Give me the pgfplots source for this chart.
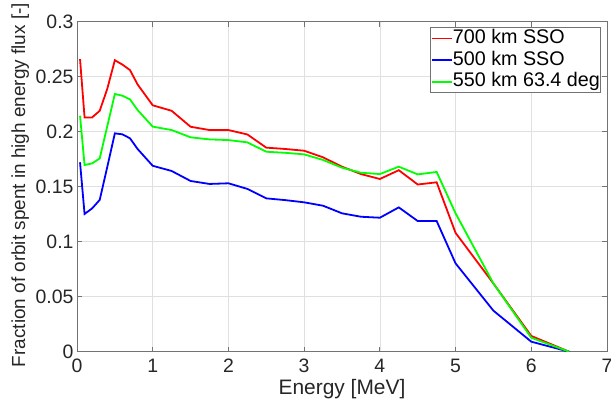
\documentclass[border=0pt]{standalone}
\usepackage{fontspec}
\setmainfont{Liberation Sans}
\usepackage{pgfplots}
\usepackage{pgfplotstable}
\pgfplotsset{compat=1.18}

\definecolor{axgray}{gray}{0.45}
\definecolor{txtgray}{gray}{0.15}
\definecolor{gridgray}{gray}{0.88}

% Fraction of the orbit spent in high energy flux, per electron energy [MeV]
\pgfplotstableread{
E     sso700  sso500  inc634
0.04  0.2660  0.1722  0.2145
0.10  0.2130  0.1252  0.1697
0.20  0.2130  0.1303  0.1712
0.30  0.2190  0.1380  0.1757
0.40  0.2390  0.1680  0.2050
0.50  0.2650  0.1985  0.2343
0.60  0.2610  0.1976  0.2327
0.70  0.2560  0.1940  0.2294
0.80  0.2430  0.1843  0.2197
1.00  0.2240  0.1690  0.2046
1.25  0.2190  0.1643  0.2015
1.50  0.2045  0.1552  0.1949
1.75  0.2015  0.1525  0.1930
2.00  0.2015  0.1531  0.1924
2.25  0.1975  0.1480  0.1903
2.50  0.1855  0.1394  0.1818
2.75  0.1843  0.1378  0.1808
3.00  0.1827  0.1358  0.1794
3.25  0.1767  0.1327  0.1743
3.50  0.1682  0.1258  0.1673
3.75  0.1615  0.1227  0.1627
4.00  0.1570  0.1218  0.1615
4.25  0.1650  0.1312  0.1682
4.50  0.1520  0.1188  0.1612
4.75  0.1540  0.1188  0.1634
5.00  0.1080  0.0803  0.1258
5.50  0.0620  0.0373  0.0620
6.00  0.0143  0.0091  0.0127
6.50  0.0000  0.0000  0.0000
}\fluxdata

\newcommand{\tickfont}{\fontsize{19.5}{22}\selectfont}
\newcommand{\xlabfont}{\fontsize{21}{24}\selectfont}
\newcommand{\ylabfont}{\fontsize{19}{22}\selectfont}
\newcommand{\legfont}{\fontsize{19.8}{22}\selectfont}

\begin{document}
\begin{tikzpicture}
\useasboundingbox (-77bp,-53.3bp) rectangle (534bp,351.7bp);
\begin{axis}[
  at={(0,0)}, anchor=south west,
  scale only axis, width=530bp, height=330bp,
  xmin=0, xmax=7, ymin=0, ymax=0.3,
  xtick={0,1,2,3,4,5,6,7},
  xticklabels={0,1,2,3,4,5,6,7},
  ytick={0,0.05,0.1,0.15,0.2,0.25,0.3},
  yticklabels={0,0.05,0.1,0.15,0.2,0.25,0.3},
  tick align=inside, major tick length=5bp,
  grid=major, grid style={gridgray, line width=0.6bp},
  axis line style={axgray, line width=0.8bp},
  tick style={axgray, line width=0.8bp},
  ticklabel style={font=\tickfont, text=txtgray},
  xticklabel style={yshift=-3.5bp},
  xlabel={Energy [MeV]},
  ylabel={Fraction of orbit spent in high energy flux [-]},
  xlabel style={font=\xlabfont, text=txtgray,
    at={(axis description cs:0.5,-0.1312)}, anchor=base},
  ylabel style={font=\ylabfont, text=txtgray,
    at={(axis description cs:-0.0981,0.505)}, anchor=base},
  legend style={at={(rel axis cs:0.9892,0.983)}, anchor=north east,
    draw=axgray, line width=0.8bp, font=\legfont, text=black,
    inner xsep=1bp, inner ysep=1.3bp, row sep=2.7bp, column sep=0bp,
    fill=white,
    nodes={inner sep=0bp, text height=14.5bp, text depth=4.5bp}},
  legend cell align=left,
  legend image code/.code={\draw[#1, line width=1.6bp] (0bp,0bp) -- (20bp,0bp);},
  every axis plot/.append style={line width=1.8bp, no markers},
]
\addplot[red]   table[x=E, y=sso700] {\fluxdata};
\addplot[blue]  table[x=E, y=sso500] {\fluxdata};
\addplot[green] table[x=E, y=inc634] {\fluxdata};
\legend{700 km SSO, 500 km SSO, 550 km 63.4 deg}
\end{axis}
\end{tikzpicture}
\end{document}
